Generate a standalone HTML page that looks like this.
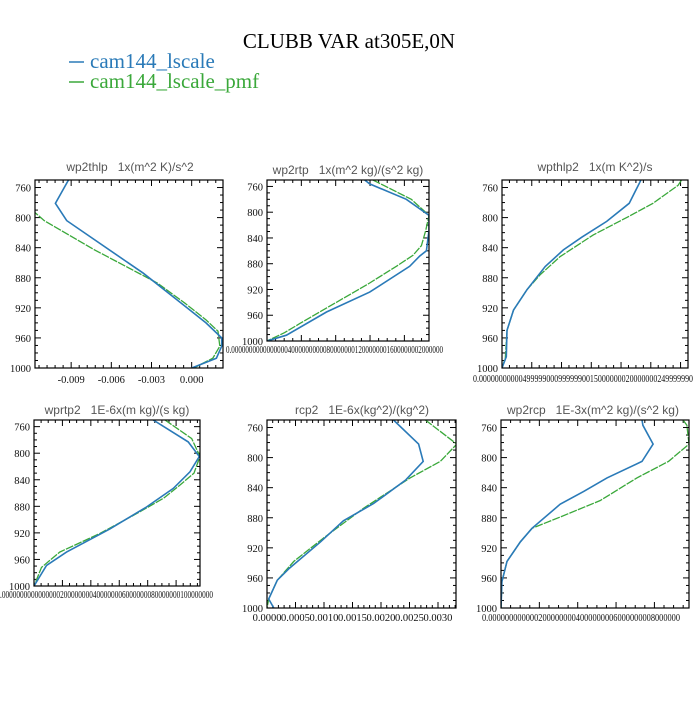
<!DOCTYPE html>
<html><head><meta charset="utf-8"><style>
body{margin:0;background:#fff;}
svg text{font-family:"Liberation Serif",serif;}
.pt{font-family:"Liberation Sans",sans-serif;font-size:12px;fill:#555;white-space:pre;}
.yl{font-size:10.5px;fill:#111;text-anchor:end;}
.xl{font-size:10.5px;fill:#111;text-anchor:middle;}
</style></head><body>
<svg id="chart" width="700" height="700" viewBox="0 0 700 700">
<text x="349" y="48" font-size="21" text-anchor="middle">CLUBB VAR at305E,0N</text>
<g>
<line x1="69" y1="62" x2="84" y2="62" stroke="#2a7ab8" stroke-width="1.5"/>
<text x="90" y="68" font-size="21" fill="#2a7ab8">cam144_lscale</text>
<line x1="69" y1="82" x2="84" y2="82" stroke="#3aa83a" stroke-width="1.5"/>
<text x="90" y="88" font-size="21" fill="#3aa83a">cam144_lscale_pmf</text>
</g>
</svg>
<script>
// ---- data ----
const yTicks=[760,800,840,880,920,960,1000];
// panel 1: wp2thlp
const p1BlueP=[750,781,804,874,918,940,960,971,987,1000];
const p1BlueV=[-0.0092,-0.01018,-0.00933,-0.00361,-0.00049,0.00107,0.00224,0.00224,0.00185,0.0];
const p1GreenP=[750,754,781,804,843,887,914,936,951,971,987,1000];
const p1GreenV=[-0.01179,-0.01218,-0.0125,-0.01101,-0.00725,-0.00257,-0.00049,0.00107,0.00197,0.0021,0.00158,0.00016];
const p1Ticks=[-0.009,-0.006,-0.003,0.0];
const p1TickLabels=["-0.009","-0.006","-0.003","0.000"];
// panel 2: wp2rtp (normalized)
const p2BlueP=[750,756,780,805,828,860,868,884,924,955,991,1000];
const p2BlueV=[0.603,0.634,0.86,1.0,1.0,0.984,0.943,0.881,0.634,0.367,0.12,0];
const p2GreenP=[750,780,805,828,852,867,884,910,973,987,1000];
const p2GreenV=[0.654,0.891,1.0,0.98,0.953,0.901,0.799,0.634,0.202,0.109,0];
// panel 3: wpthlp2
const p3BlueP=[750,753,781,805,826,843,865,896,923,950,985,994,1000];
const p3BlueV=[0.746,0.741,0.684,0.563,0.429,0.33,0.232,0.134,0.062,0.027,0.023,0.009,0];
const p3GreenP=[750,757,781,799,823,852,876,896,923,950,987,1000];
const p3GreenV=[0.965,0.947,0.812,0.678,0.491,0.312,0.205,0.134,0.062,0.027,0.018,0];
// panel 4: wprtp2
const p4BlueP=[750,783,805,828,853,881,914,949,969,1000];
const p4BlueV=[0.718,0.929,0.996,0.94,0.839,0.678,0.457,0.196,0.075,0];
const p4GreenP=[750,778,805,830,848,868,891,921,949,972,1000];
const p4GreenV=[0.789,0.95,1.0,0.964,0.879,0.779,0.618,0.397,0.155,0.045,0];
// panel 5: rcp2
const p5BlueP=[750,782,805,830,861,884,912,948,963,988,1000];
const p5BlueV=[0.00222,0.00266,0.00274,0.00243,0.00187,0.00134,0.00094,0.00038,0.00018,0.00003,0.00012];
const p5GreenP=[750,782,805,827,867,907,938,963,988,1000];
const p5GreenV=[0.00278,0.00333,0.00304,0.00251,0.0017,0.00099,0.00047,0.00018,0.00003,0];
const p5Ticks=[0,0.0005,0.001,0.0015,0.002,0.0025,0.003];
const p5TickLabels=["0.0000","0.0005","0.0010","0.0015","0.0020","0.0025","0.0030"];
// panel 6: wp2rcp
const p6BlueP=[750,757,782,805,827,845,862,894,912,938,965,1000];
const p6BlueV=[0.75,0.755,0.809,0.75,0.564,0.44,0.315,0.165,0.103,0.032,0.005,0];
const p6GreenP=[750,757,782,805,827,857,879,894,912,938,965,1000];
const p6GreenV=[0.968,0.989,1.0,0.891,0.723,0.528,0.315,0.165,0.103,0.032,0.005,0];

const NS="http://www.w3.org/2000/svg";
const svg=document.getElementById('chart');
function mk(tag,at,parent){const e=document.createElementNS(NS,tag);for(const k in at)e.setAttribute(k,at[k]);(parent||svg).appendChild(e);return e;}

const panels=[
 {id:'wp2thlp',title:'wp2thlp   1x(m^2 K)/s^2',tx:130,ty:171,L:35,R:223,T:180,B:368,x0:-0.0117,x1:0.00234,
  bp:p1BlueP,bv:p1BlueV,gp:p1GreenP,gv:p1GreenV,ticks:p1Ticks,labels:p1TickLabels,minor:0.0006,ly:383},
 {id:'wp2rtp',title:'wp2rtp   1x(m^2 kg)/(s^2 kg)',tx:348,ty:174,L:267,R:429,T:180,B:341,x0:0,x1:1,
  bp:p2BlueP,bv:p2BlueV,gp:p2GreenP,gv:p2GreenV,ticks:[0,0.212,0.424,0.636,0.848],minor:0.053,
  junk:'0.000000000000000040000000000800000001200000001600000002000000',jx0:226,jx1:443,ly:353},
 {id:'wpthlp2',title:'wpthlp2   1x(m K^2)/s',tx:595,ty:171,L:502,R:688,T:180,B:368,x0:0,x1:1,
  bp:p3BlueP,bv:p3BlueV,gp:p3GreenP,gv:p3GreenV,ticks:[0,0.16,0.32,0.48,0.64,0.8,0.96],minor:0.04,
  junk:'0.000000000004999990009999990015000000020000000249999990',jx0:473,jx1:693,ly:382},
 {id:'wprtp2',title:'wprtp2   1E-6x(m kg)/(s kg)',tx:117,ty:414,L:34,R:200,T:420,B:586,x0:0,x1:1,
  bp:p4BlueP,bv:p4BlueV,gp:p4GreenP,gv:p4GreenV,ticks:[0,0.171,0.342,0.513,0.684,0.855],minor:0.0428,
  junk:'.0000000000000000200000000400000006000000080000000100000000',jx0:0,jx1:213,ly:598},
 {id:'rcp2',title:'rcp2   1E-6x(kg^2)/(kg^2)',tx:362,ty:414,L:267,R:456,T:420,B:608,x0:0,x1:0.003316,
  bp:p5BlueP,bv:p5BlueV,gp:p5GreenP,gv:p5GreenV,ticks:p5Ticks,labels:p5TickLabels,minor:0.0001,ly:621},
 {id:'wp2rcp',title:'wp2rcp   1E-3x(m^2 kg)/(s^2 kg)',tx:593,ty:414,L:501,R:689,T:420,B:608,x0:0,x1:1,
  bp:p6BlueP,bv:p6BlueV,gp:p6GreenP,gv:p6GreenV,ticks:[0,0.204,0.408,0.612,0.816],minor:0.051,
  junk:'0.0000000000002000000004000000006000000008000000',jx0:482,jx1:680,ly:621}
];

panels.forEach((p,i)=>{
 const g=mk('g',{});
 
 
 const xs=v=>p.L+(v-p.x0)/(p.x1-p.x0)*(p.R-p.L);
 const ys=v=>p.T+(v-750)/250*(p.B-p.T);
 const t=mk('text',{x:p.tx,y:p.ty,'class':'pt','text-anchor':'middle'},g);
 t.setAttributeNS('http://www.w3.org/XML/1998/namespace','xml:space','preserve');
 t.textContent=p.title;
 
 
 const cp=mk('clipPath',{id:'cp'+i},g);
 mk('rect',{x:p.L,y:p.T,width:p.R-p.L,height:p.B-p.T},cp);
 for(let v=760;v<=1000;v+=10){
  const y=ys(v),len=(v%40===0)?6:3;
  mk('line',{x1:p.L,y1:y,x2:p.L+len,y2:y,stroke:'#000','stroke-width':1},g);
  mk('line',{x1:p.R,y1:y,x2:p.R-len,y2:y,stroke:'#000','stroke-width':1},g);
 }
 yTicks.forEach(v=>{
  const l=mk('text',{x:p.L-4,y:ys(v)+4,'class':'yl'},g);
  l.textContent=v;
  
  
 });
 const start=p.ticks[0];
 for(let k=-40;k<=80;k++){
  const v=start+k*p.minor;
  if(v<p.x0-1e-12||v>p.x1+1e-12)continue;
  const isMaj=p.ticks.some(tv=>Math.abs(tv-v)<p.minor*0.3);
  const x=xs(v),len=isMaj?6:3;
  mk('line',{x1:x,y1:p.B,x2:x,y2:p.B-len,stroke:'#000','stroke-width':1},g);
  mk('line',{x1:x,y1:p.T,x2:x,y2:p.T+len,stroke:'#000','stroke-width':1},g);
 }
 if(p.labels){
  p.ticks.forEach((v,j)=>{
   const l=mk('text',{x:xs(v),y:p.ly,'class':'xl'},g);
   l.textContent=p.labels[j];
   
   
  });
 } else {
  const l=mk('text',{x:p.jx0,y:p.ly,'font-size':'11',textLength:p.jx1-p.jx0,lengthAdjust:'spacingAndGlyphs',fill:'#111'},g);
  l.textContent=p.junk;
  
  
 }
 const line=(P,V,col,dash,name)=>{
  const d=P.map((pp,j)=>(j?'L':'M')+xs(V[j]).toFixed(1)+','+ys(pp).toFixed(1)).join('');
  const e=mk('path',{d:d,fill:'none',stroke:col,'stroke-width':dash?1.3:1.6,'clip-path':'url(#cp'+i+')'},g);
  if(dash)e.setAttribute('stroke-dasharray','8,1.2');
  
  
 };
 line(p.gp,p.gv,'#3aa83a',true,'series-cam144-lscale-pmf');
 line(p.bp,p.bv,'#2a7ab8',false,'series-cam144-lscale');
 const fr=mk('rect',{x:p.L,y:p.T,width:p.R-p.L,height:p.B-p.T,fill:'none',stroke:'#000','stroke-width':1.2},g);
 
 
});
</script>
</body></html>
